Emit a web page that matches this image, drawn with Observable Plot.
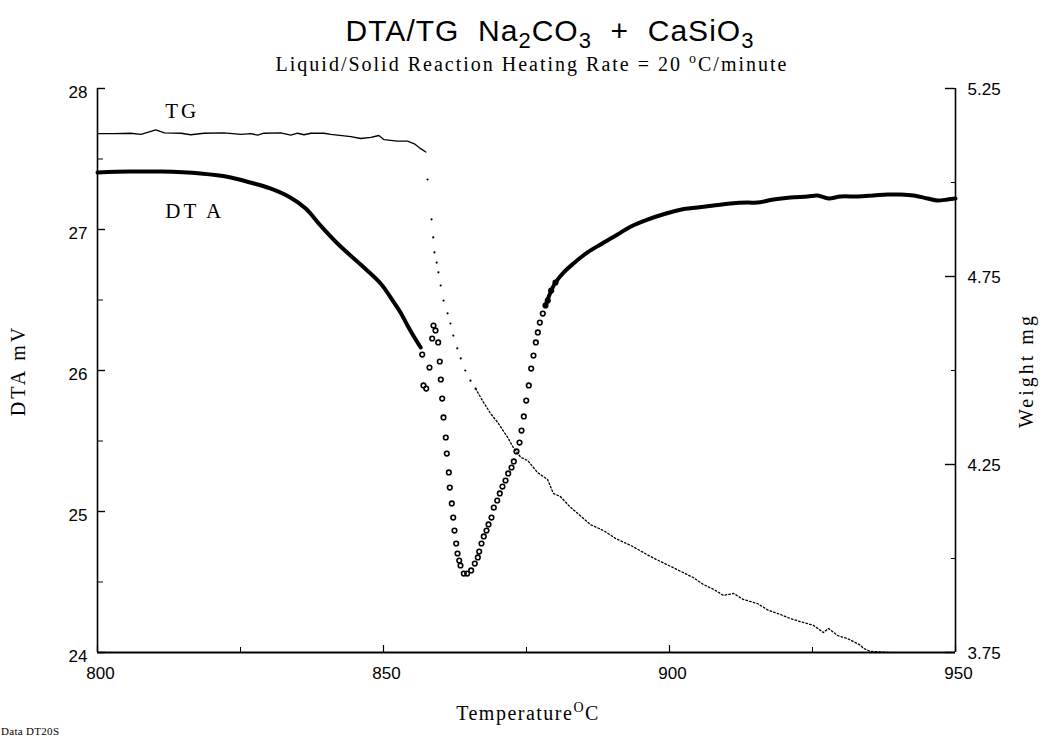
<!DOCTYPE html>
<html>
<head>
<meta charset="utf-8">
<script src="https://cdn.jsdelivr.net/npm/d3@7"></script>
<script src="https://cdn.jsdelivr.net/npm/@observablehq/plot@0.6"></script>
<style>
  body { margin: 0; background: #fff; }
  #wrap { position: relative; width: 1048px; height: 738px; overflow: hidden; }
  #wrap svg { position: absolute; left: 0; top: 0; }
  .ov { position: absolute; white-space: nowrap; color: #000; }
  #title { left: 0; width: 1100px; top: 16px; text-align: center; font: 30px/30px "Liberation Sans", Arial, sans-serif; letter-spacing: 1px; }
  #title sub { font-size: 22px; vertical-align: -7px; line-height: 0; }
  #subtitle { left: 0; width: 1064px; top: 54px; text-align: center; font: 20px/20px "Liberation Serif", "Times New Roman", serif; letter-spacing: 2px; }
  #xlabel { left: 0; width: 1056px; top: 702px; text-align: center; font: 20px/22px "Liberation Serif", "Times New Roman", serif; letter-spacing: 1.5px; }
  sup { font-size: 0.7em; vertical-align: 0.55em; line-height: 0; }
  #foot { left: 1px; top: 725px; font: 11px/12px "Liberation Serif", serif; letter-spacing: 0.3px; }
</style>
</head>
<body>
<div id="wrap">
  <div class="ov" id="title">DTA/TG&nbsp; Na<sub>2</sub>CO<sub>3</sub>&nbsp; +&nbsp; CaSiO<sub>3</sub></div>
  <div class="ov" id="subtitle">Liquid/Solid Reaction Heating Rate = 20 <sup>o</sup>C/minute</div>
  <div class="ov" id="xlabel">Temperature<sup>O</sup>C</div>
  <div class="ov" id="foot">Data DT20S</div>
</div>
<script>
// Axis ticks
const xTicks = [800, 850, 900, 950];
const xMinor = [825, 875, 925];
const dtaTicks = [24, 25, 26, 27, 28];
const dtaMinor = [24.5, 25.5, 26.5, 27.5];
const weightTicks = [3.75, 4.25, 4.75, 5.25];
const weightMinor = [4.0, 4.5, 5.0];

// DTA (mV) – heating up to the onset of the reaction
const dtaHeatT  = [800.0, 805.8, 811.0, 818.0, 823.3, 826.7, 830.2, 833.7, 836.4, 839.0, 842.5, 846.0, 849.5, 851.7, 853.0, 854.2, 855.2, 856.5];
const dtaHeatMv = [27.404, 27.411, 27.411, 27.397, 27.369, 27.333, 27.291, 27.227, 27.149, 27.028, 26.879, 26.752, 26.617, 26.490, 26.410, 26.319, 26.248, 26.163];

// DTA (mV) – sparse readings through the endothermic peak
const dtaPeakT  = [856.77, 856.99, 857.47, 858.04, 858.51, 858.74, 859.09, 859.56, 859.84, 860.02, 860.26, 860.49, 860.89, 861.07, 861.42, 861.59, 861.94, 862.19, 862.41, 862.71, 862.94, 863.24, 863.46, 864.04, 864.63, 865.33, 865.96, 866.49, 866.73, 867.13, 867.53, 868.01, 868.36, 868.88, 869.28, 869.88, 870.33, 870.80, 871.33, 871.80, 872.38, 872.78, 873.25, 873.78, 874.13, 874.53, 874.95, 875.40, 875.82, 876.22, 876.63, 876.98, 877.33, 877.85, 878.32, 878.72, 879.32, 880.07];
const dtaPeakMv = [26.113, 25.894, 25.872, 26.021, 26.227, 26.319, 26.284, 26.199, 26.064, 25.936, 25.801, 25.667, 25.525, 25.411, 25.277, 25.170, 25.057, 24.957, 24.865, 24.773, 24.702, 24.652, 24.617, 24.560, 24.560, 24.582, 24.631, 24.674, 24.716, 24.773, 24.823, 24.865, 24.908, 24.957, 25.028, 25.078, 25.128, 25.177, 25.220, 25.270, 25.312, 25.355, 25.426, 25.489, 25.574, 25.674, 25.787, 25.894, 26.014, 26.106, 26.199, 26.270, 26.340, 26.404, 26.461, 26.496, 26.567, 26.624];

// DTA (mV) – recovery to the baseline
const dtaRecT  = [878.32, 879.32, 880.07, 881.47, 883.22, 885.66, 887.94, 890.91, 893.18, 896.15, 898.95, 901.92, 904.90, 907.69, 910.66, 913.64, 915.38, 918.18, 921.15, 924.13, 925.87, 927.80, 929.90, 932.87, 935.66, 938.11, 940.38, 942.66, 945.10, 946.85, 948.60, 950.0];
const dtaRecMv = [26.461, 26.567, 26.624, 26.695, 26.759, 26.837, 26.894, 26.965, 27.020, 27.070, 27.108, 27.140, 27.156, 27.170, 27.184, 27.191, 27.191, 27.213, 27.227, 27.234, 27.241, 27.220, 27.234, 27.234, 27.241, 27.248, 27.248, 27.241, 27.220, 27.206, 27.213, 27.220];

// TG (mg) – plateau before decomposition
const tgFlatT = [800.0, 802.9, 805.8, 807.6, 810.2, 811.7, 814.6, 816.3, 818.6, 822.1, 825.1, 826.8, 828.0, 829.1, 832.0, 833.8, 835.0, 836.1, 837.3, 839.6, 840.8, 844.3, 846.0, 847.8, 849.2, 850.1, 852.4, 854.2, 855.4, 856.5, 857.4];
const tgFlatW = [5.130, 5.130, 5.131, 5.128, 5.140, 5.132, 5.131, 5.127, 5.131, 5.132, 5.128, 5.130, 5.126, 5.131, 5.132, 5.126, 5.131, 5.127, 5.131, 5.131, 5.128, 5.122, 5.117, 5.120, 5.125, 5.114, 5.110, 5.110, 5.103, 5.090, 5.081];

// TG (mg) – rapid mass loss
const tgDropT = [857.7, 858.4, 858.7, 858.9, 859.3, 859.6, 860.0, 860.5, 861.2, 861.7, 862.2, 862.9, 863.5, 864.3, 865.2, 866.1];
const tgDropW = [5.008, 4.902, 4.854, 4.814, 4.787, 4.761, 4.726, 4.686, 4.652, 4.625, 4.593, 4.559, 4.532, 4.500, 4.473, 4.452];

// TG (mg) – continued mass loss
const tgTailT = [866.1, 867.3, 868.7, 870.1, 871.7, 872.7, 874.0, 875.2, 876.9, 878.7, 879.7, 880.9, 882.7, 884.4, 886.2, 888.5, 890.6, 893.2, 896.7, 900.2, 904.2, 905.9, 907.7, 909.4, 911.2, 912.9, 915.4, 917.3, 919.4, 921.2, 922.9, 925.2, 926.9, 927.8, 929.4, 931.1, 932.2, 933.4, 933.9, 935.1, 938.6];
const tgTailW = [4.452, 4.420, 4.386, 4.359, 4.322, 4.295, 4.269, 4.261, 4.229, 4.210, 4.173, 4.165, 4.136, 4.114, 4.090, 4.074, 4.053, 4.035, 4.005, 3.979, 3.949, 3.931, 3.918, 3.902, 3.907, 3.891, 3.880, 3.862, 3.851, 3.840, 3.832, 3.822, 3.803, 3.814, 3.795, 3.787, 3.779, 3.769, 3.761, 3.753, 3.750];

// Curve labels
const curveLabels = ["TG", "DT A"];
const curveLabelT = [814.8, 817.0];
const curveLabelMv = [27.84, 27.13];

// Weight (right axis) shares the vertical scale with DTA (left axis)
const V0 = 24, V1 = 28, W0 = 3.75, W1 = 5.25;
const toV = w => V0 + (w - W0) * (V1 - V0) / (W1 - W0);
const toW = v => W0 + (v - V0) * (W1 - W0) / (V1 - V0);

const rows = (T, Y, f = d => d) => T.map((t, i) => ({t, v: f(Y[i])}));
const dtaHeat = rows(dtaHeatT, dtaHeatMv);
const dtaPeak = rows(dtaPeakT, dtaPeakMv);
const dtaRec = rows(dtaRecT, dtaRecMv);
const tgFlat = rows(tgFlatT, tgFlatW, toV);
const tgDrop = rows(tgDropT, tgDropW, toV);
const tgTail = rows(tgTailT, tgTailW, toV);
const labels = curveLabels.map((s, i) => ({s, t: curveLabelT[i], v: curveLabelMv[i]}));

const W = 1048, H = 738;
const mL = 97, mR = 93, mT = 88, mB = 86;
const pw = W - mL - mR, ph = H - mT - mB;
const sans = "Liberation Sans, Arial, sans-serif";
const serif = "Liberation Serif, Times New Roman, serif";

const chart = Plot.plot({
  width: W,
  height: H,
  marginLeft: mL,
  marginRight: mR,
  marginTop: mT,
  marginBottom: mB,
  style: {background: "transparent", color: "#000", fontFamily: sans},
  x: {domain: [800, 950], axis: null},
  y: {domain: [V0, V1], axis: null},
  marks: [
    // frame: left, right and bottom axis lines
    Plot.ruleX([800, 950], {y1: V0, y2: V1, stroke: "#000", strokeWidth: 1.6}),
    Plot.ruleY([V0], {x1: 800, x2: 950, stroke: "#000", strokeWidth: 1.8}),
    // inward ticks
    Plot.tickY(dtaTicks, {y: d => d, insetRight: pw - 8, stroke: "#000", strokeWidth: 1.4}),
    Plot.tickY(dtaMinor, {y: d => d, insetRight: pw - 6, stroke: "#000", strokeWidth: 1}),
    Plot.tickY(weightTicks.map(toV), {y: d => d, insetLeft: pw - 10, stroke: "#000", strokeWidth: 1.4}),
    Plot.tickY(weightMinor.map(toV), {y: d => d, insetLeft: pw - 4, stroke: "#000", strokeWidth: 1}),
    Plot.tickX(xTicks, {x: d => d, insetTop: ph - 7, stroke: "#000", strokeWidth: 1.2}),
    Plot.tickX(xMinor, {x: d => d, insetTop: ph - 5, stroke: "#000", strokeWidth: 1}),
    // tick labels
    Plot.axisY(dtaTicks, {anchor: "left", tickSize: 0, tickPadding: 10, dy: 4, fontSize: 17, fontFamily: sans, tickFormat: d3.format("d"), label: null}),
    Plot.axisY(weightTicks.map(toV), {anchor: "right", tickSize: 0, tickPadding: 12, dy: 1, fontSize: 17, fontFamily: sans, tickFormat: v => toW(v).toFixed(2), label: null}),
    Plot.axisX(xTicks, {anchor: "bottom", tickSize: 0, tickPadding: 14, dx: 3, fontSize: 17, fontFamily: sans, tickFormat: d3.format("d"), label: null}),
    // axis titles
    Plot.text(["DTA mV"], {frameAnchor: "left", dx: -79, rotate: -90, textAnchor: "middle", fontSize: 20, fontFamily: serif}),
    Plot.text(["Weight mg"], {frameAnchor: "right", dx: 71, rotate: -90, textAnchor: "middle", fontSize: 20, fontFamily: serif}),
    // TG curve
    Plot.line(tgFlat, {x: "t", y: "v", stroke: "#000", strokeWidth: 1.3}),
    Plot.dot(tgDrop, {x: "t", y: "v", r: 1.1, fill: "#000", stroke: null}),
    Plot.line(tgTail, {x: "t", y: "v", stroke: "#000", strokeWidth: 1.3, strokeDasharray: "1.6,2.2"}),
    // DTA curve
    Plot.line(dtaHeat, {x: "t", y: "v", curve: "catmull-rom", stroke: "#000", strokeWidth: 4, strokeLinecap: "round", strokeLinejoin: "round"}),
    Plot.dot(dtaPeak, {x: "t", y: "v", r: 2.3, fill: "none", stroke: "#000", strokeWidth: 1.6}),
    Plot.line(dtaRec, {x: "t", y: "v", curve: "catmull-rom", stroke: "#000", strokeWidth: 4, strokeLinecap: "round", strokeLinejoin: "round"}),
    // curve labels
    Plot.text(labels, {x: "t", y: "v", text: "s", fontSize: 21, fontFamily: serif})
  ]
});

// serif annotations use the wide spacing of the original plotter output
d3.select(chart).selectAll("g[font-family^='Liberation Serif'] text").style("letter-spacing", "3px");

document.getElementById("wrap").prepend(chart);
</script>
</body>
</html>
